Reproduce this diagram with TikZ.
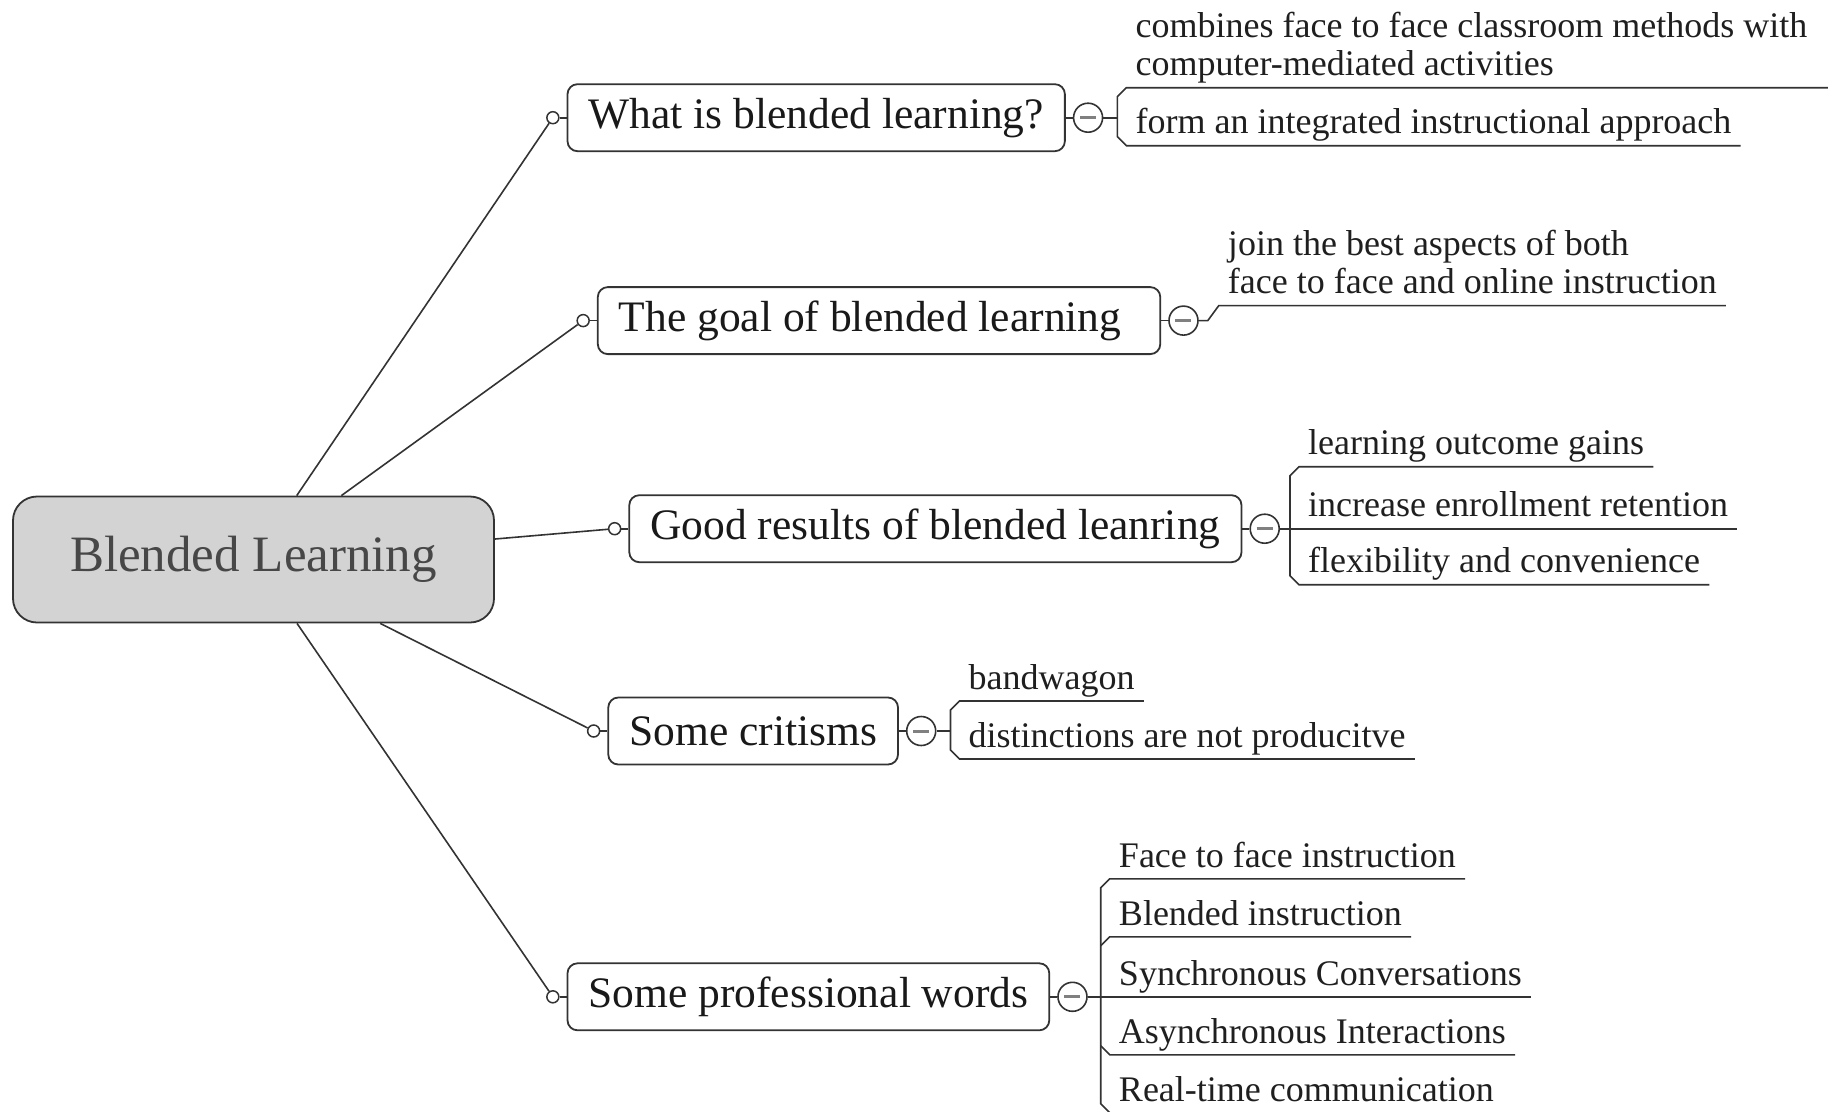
\documentclass[tikz,border=0pt]{standalone}
\usepackage{fontspec}
\setmainfont{Liberation Serif}
\usetikzlibrary{positioning}
\definecolor{inkline}{HTML}{333333}
\definecolor{rootfill}{HTML}{D3D3D3}
\definecolor{roottext}{HTML}{474747}
\tikzset{
  topic/.style = {rectangle,rounded corners=24pt,draw=inkline,fill=rootfill,line width=1.8pt,
    minimum width=481pt,minimum height=126pt,text=roottext,font=\fontsize{51}{56}\selectfont},
  branch/.style = {rectangle,rounded corners=10pt,draw=inkline,fill=white,line width=1.8pt,
    minimum height=67pt,inner xsep=21pt,anchor=west,text=black!90,font=\fontsize{43.5}{48}\selectfont},
  knob/.style = {circle,draw=inkline,fill=white,line width=1.5pt,minimum size=12pt,inner sep=0pt},
  fold/.style = {circle,draw=inkline,fill=white,line width=1.6pt,minimum size=29pt,inner sep=0pt,
    path picture={\draw[gray,line width=3pt] ([xshift=-8pt]path picture bounding box.center)
      -- ([xshift=8pt]path picture bounding box.center);}},
  leaf/.style = {anchor=south west,inner xsep=9pt,inner ysep=0pt,align=left,text=black!88,
    font=\fontsize{36}{38.5}\selectfont,execute at end node=\strut},
  wire/.style = {draw=inkline,line width=1.6pt}
}
\begin{document}
\begin{tikzpicture}[x=1pt,y=-1pt]
\useasboundingbox (0,0) rectangle (1828,1111);
\node[topic] (root) at (253.5,559.5) {Blended Learning};

% main branches
\node[branch] (b1) at (566.6,117.7) {What is blended learning?};
\node[branch] (b2) at (596.9,320.6) {The goal of blended learning\hspace*{18pt}};
\node[branch] (b3) at (628.4,528.7) {Good results of blended leanring};
\node[branch] (b4) at (607.4,731) {Some critisms};
\node[branch] (b5) at (566.6,996.8) {Some professional words};

\node[knob,left=7pt of b1] (k1) {};
\node[knob,left=7pt of b2] (k2) {};
\node[knob,left=7pt of b3] (k3) {};
\node[knob,left=7pt of b4] (k4) {};
\node[knob,left=7pt of b5] (k5) {};

\node[fold,right=7pt of b1] (m1) {};
\node[fold,right=7pt of b2] (m2) {};
\node[fold,right=7pt of b3] (m3) {};
\node[fold,right=7pt of b4] (m4) {};
\node[fold,right=7pt of b5] (m5) {};

\coordinate[right=14pt of m1] (j1);
\coordinate[right=9pt of m2] (j2);
\coordinate[right=10pt of m3] (j3);
\coordinate[right=14pt of m4] (j4);
\coordinate[right=13pt of m5] (j5);

\draw[wire] (root) -- (k1);
\draw[wire] (root) -- (k2);
\draw[wire] (root) -- (k3);
\draw[wire] (root) -- (k4);
\draw[wire] (root) -- (k5);

\draw[wire] (k1) -- (b1);  \draw[wire] (b1) -- (m1);  \draw[wire] (m1) -- (j1);
\draw[wire] (k2) -- (b2);  \draw[wire] (b2) -- (m2);
\draw[wire] (k3) -- (b3);  \draw[wire] (b3) -- (m3);  \draw[wire] (m3) -- (j3);
\draw[wire] (k4) -- (b4);  \draw[wire] (b4) -- (m4);  \draw[wire] (m4) -- (j4);
\draw[wire] (k5) -- (b5);  \draw[wire] (b5) -- (m5);  \draw[wire] (m5) -- (j5);

% leaves
\node[leaf] (l11) at ([xshift=9pt,yshift=30pt]j1) {combines face to face classroom methods with\\computer-mediated activities};
\node[leaf] (l12) at ([xshift=9pt,yshift=-28pt]j1) {form an integrated instructional approach};
\draw[wire] ([xshift=30pt]l11.south east) -- (l11.south west) -- ++(-9pt,-9pt)
  -- ([xshift=-9pt,yshift=9pt]l12.south west) -- (l12.south west) -- (l12.south east);

\node[leaf] (l21) at ([xshift=11pt,yshift=15pt]j2) {join the best aspects of both\\face to face and online instruction};
\draw[wire] (m2) -- (j2) -- (l21.south west) -- (l21.south east);

\node[leaf] (l31) at ([xshift=9pt,yshift=62pt]j3) {learning outcome gains};
\node[leaf] (l32) at ([xshift=9pt]j3) {increase enrollment retention};
\node[leaf] (l33) at ([xshift=9pt,yshift=-56pt]j3) {flexibility and convenience};
\draw[wire] (l31.south east) -- (l31.south west) -- ++(-9pt,-9pt)
  -- ([xshift=-9pt,yshift=9pt]l33.south west) -- (l33.south west) -- (l33.south east);
\draw[wire] (j3) -- (l32.south east);

\node[leaf] (l41) at ([xshift=9pt,yshift=30pt]j4) {bandwagon};
\node[leaf] (l42) at ([xshift=9pt,yshift=-28pt]j4) {distinctions are not producitve};
\draw[wire] (l41.south east) -- (l41.south west) -- ++(-9pt,-9pt)
  -- ([xshift=-9pt,yshift=9pt]l42.south west) -- (l42.south west) -- (l42.south east);

\node[leaf] (l51) at ([xshift=9pt,yshift=118pt]j5) {Face to face instruction};
\node[leaf] (l52) at ([xshift=9pt,yshift=60pt]j5) {Blended instruction};
\node[leaf] (l53) at ([xshift=9pt]j5) {Synchronous Conversations};
\node[leaf] (l54) at ([xshift=9pt,yshift=-58pt]j5) {Asynchronous Interactions};
\node[leaf] (l55) at ([xshift=9pt,yshift=-116pt]j5) {Real-time communication};
\draw[wire] (l51.south east) -- (l51.south west) -- ++(-9pt,-9pt)
  -- ([xshift=-9pt,yshift=9pt]l55.south west) -- (l55.south west) -- (l55.south east);
\draw[wire] (l52.south east) -- (l52.south west) -- ++(-9pt,-9pt);
\draw[wire] (j5) -- (l53.south east);
\draw[wire] (l54.south east) -- (l54.south west) -- ++(-9pt,9pt);
\end{tikzpicture}
\end{document}
